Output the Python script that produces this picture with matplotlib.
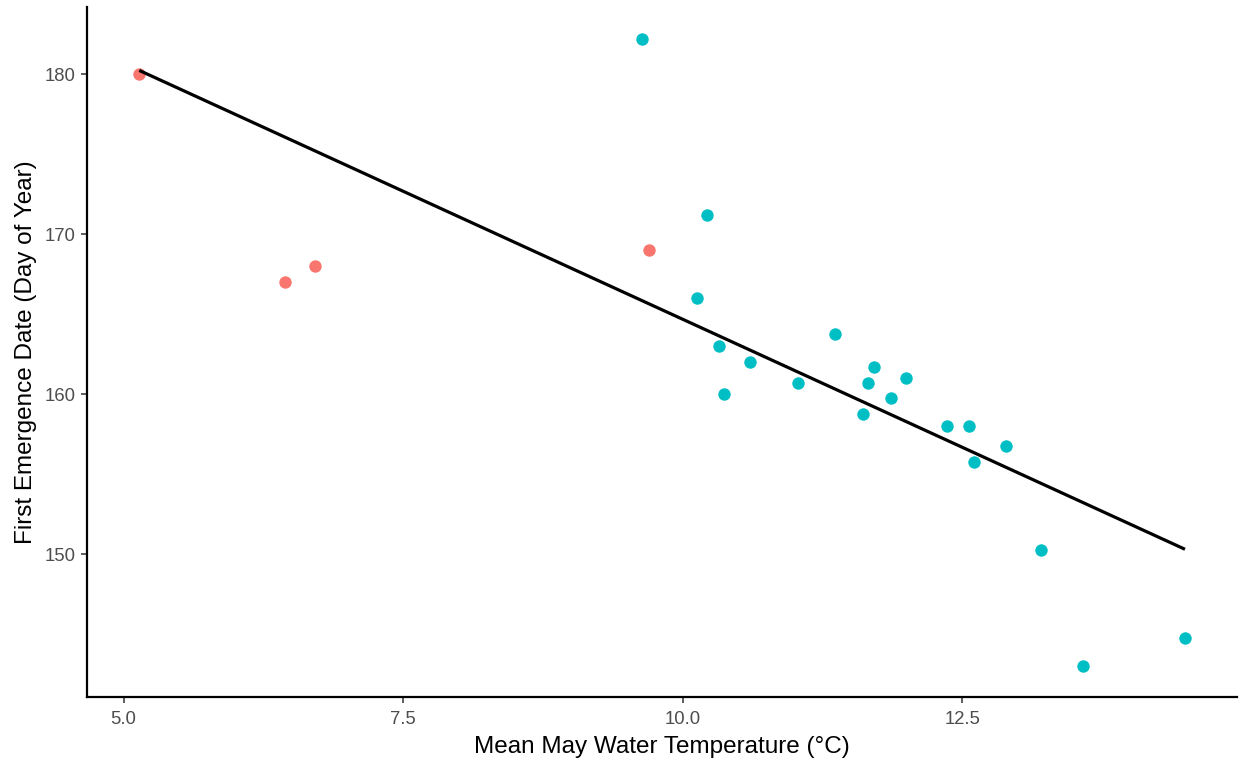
import numpy as np
import matplotlib
matplotlib.use("Agg")
import matplotlib.pyplot as plt

plt.rcParams['font.family'] = ['Liberation Sans', 'DejaVu Sans']

# Mean May water temperature (deg C) and first emergence day-of-year, by group
temp_a = [5.14, 6.445, 6.71, 9.70]
doy_a = [180.0, 167.0, 168.0, 169.0]

temp_b = [9.635, 10.22, 10.13, 10.32, 10.60, 10.37, 11.03, 11.36, 11.71, 11.66,
          12.00, 11.86, 11.61, 12.36, 12.56, 12.89, 12.60, 13.20, 13.58, 14.49]
doy_b = [182.23, 171.23, 166.0, 163.0, 162.0, 160.0, 160.73, 163.76, 161.73, 160.73,
         161.0, 159.75, 158.75, 158.0, 158.0, 156.75, 155.74, 150.23, 143.0, 144.75]

xticks = [5.0, 7.5, 10.0, 12.5]
yticks = [150, 160, 170, 180]

col_a = '#F8766D'
col_b = '#00BFC4'

fig = plt.figure(figsize=(12.39, 7.59), dpi=100)
ax = fig.add_axes([0.0702, 0.0812, 0.9284, 0.909])

ax.scatter(temp_a, doy_a, s=80, color=col_a, linewidths=0, zorder=3)
ax.scatter(temp_b, doy_b, s=80, color=col_b, linewidths=0, zorder=3)

# Linear fit across all observations
x_all = np.array(temp_a + temp_b)
y_all = np.array(doy_a + doy_b)
slope, intercept = np.polyfit(x_all, y_all, 1)
xf = np.array([x_all.min(), x_all.max()])
ax.plot(xf, intercept + slope * xf, color='black', lw=2.3, zorder=4,
        solid_capstyle='butt')

# 5% padding on both axes
xr = x_all.max() - x_all.min()
yr = y_all.max() - y_all.min()
ax.set_xlim(x_all.min() - 0.05 * xr, x_all.max() + 0.05 * xr)
ax.set_ylim(y_all.min() - 0.05 * yr, y_all.max() + 0.05 * yr)

ax.set_xticks(xticks)
ax.set_xticklabels([f'{v:.1f}' for v in xticks])
ax.set_yticks(yticks)
ax.set_yticklabels([str(v) for v in yticks])

for side in ['top', 'right']:
    ax.spines[side].set_visible(False)
for side in ['left', 'bottom']:
    ax.spines[side].set_linewidth(1.6)
    ax.spines[side].set_color('black')

ax.tick_params(axis='both', length=4.5, width=1.1, color='#333333',
               labelcolor='#4D4D4D', labelsize=13.3, pad=3.5)
ax.tick_params(axis='x', pad=5)

ax.set_xlabel('Mean May Water Temperature (°C)', fontsize=17.5, color='black', labelpad=6)
ax.set_ylabel('First Emergence Date (Day of Year)', fontsize=17.5, color='black', labelpad=6)

fig.savefig('out.png', dpi=100, facecolor='white')
